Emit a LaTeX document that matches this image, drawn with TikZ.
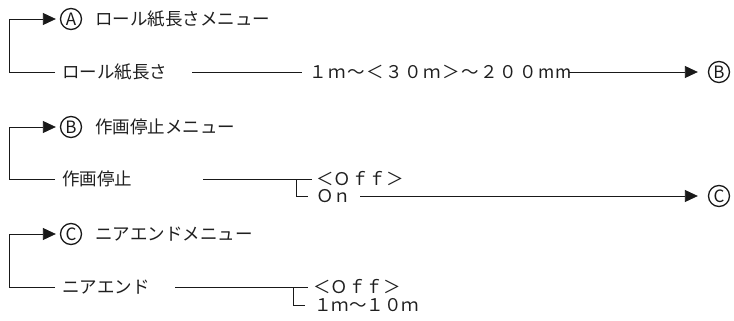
\documentclass[tikz,border=0pt]{standalone}
\usepackage{fontspec}
\setmainfont{Noto Sans CJK JP}
\newfontfamily\jp{Noto Sans CJK JP}
\newfontfamily\jpw[LetterSpace=9]{Noto Sans CJK JP}
\newfontfamily\jpc{Noto Sans CJK JP}
\usetikzlibrary{arrows.meta}
\begin{document}
\begin{tikzpicture}[x=1pt,y=-1pt,
  txt/.style={anchor=base west, inner sep=0pt, text=black!88,
    font=\jp\fontsize{17.5}{19}\selectfont},
  wtxt/.style={txt, font=\jpw\fontsize{17.5}{19}\selectfont},
  ln/.style={line width=0.8pt, draw=black!90},
  arr/.style={ln, -{Triangle[length=13pt,width=12pt]}},
  circ/.style={circle, draw=black!90, line width=1.3pt, minimum size=21pt,
    inner sep=0pt, text=black!90, font=\jpc\fontsize{17}{17}\selectfont}
]
\useasboundingbox (0,0) rectangle (734,321);

% ---------------- A ----------------
\coordinate (kA) at (9,19);
\coordinate (jA) at (55,72);
\node[circ] (cA) at (71,19) {A};
\node[txt] (tA) at (95,25.5) {ロール紙長さメニュー};
\node[txt] (rA) at (62,78.5) {ロール紙長さ};
\coordinate (a1) at (192,72);
\coordinate (a2) at (302,72);
\node[wtxt] (vA) at (309,78.5) {１ｍ～＜３０ｍ＞～２００mm};
\coordinate (a3) at (569,72);
\node[circ] (eB) at (719,72) {B};
\draw[arr, shorten >=4pt] (jA) -| (kA) -- (cA);
\draw[ln] (a1) -- (a2);
\draw[arr, shorten >=10pt] (a3) -- (eB);

% ---------------- B ----------------
\coordinate (kB) at (9,127);
\coordinate (jB) at (55,179);
\node[circ] (cB) at (71,127) {B};
\node[txt] (tB) at (95,133.5) {作画停止メニュー};
\node[txt] (rB) at (62,185.5) {作画停止};
\coordinate (b1) at (203,179);
\coordinate (b2) at (312,179);
\coordinate (bk) at (296,179);
\coordinate (bl) at (308,196);
\node[txt] (oB) at (316,185.5) {＜Ｏｆｆ＞};
\node[txt] (nB) at (316,202.5) {Ｏｎ};
\coordinate (b3) at (360,196);
\node[circ] (eC) at (719,196) {C};
\draw[arr, shorten >=4pt] (jB) -| (kB) -- (cB);
\draw[ln] (b1) -- (b2);
\draw[ln] (bk) |- (bl);
\draw[arr, shorten >=10pt] (b3) -- (eC);

% ---------------- C ----------------
\coordinate (kC) at (9,234);
\coordinate (jC) at (55,287);
\node[circ] (cC) at (71,234) {C};
\node[txt] (tC) at (95,240.5) {ニアエンドメニュー};
\node[txt] (rC) at (62,293.5) {ニアエンド};
\coordinate (c1) at (175,287);
\coordinate (c2) at (308,287);
\coordinate (ck) at (293,287);
\coordinate (cl) at (305,305);
\node[txt] (oC) at (313,293.5) {＜Ｏｆｆ＞};
\node[txt] (nC) at (314,311.5) {１ｍ～１０ｍ};
\draw[arr, shorten >=4pt] (jC) -| (kC) -- (cC);
\draw[ln] (c1) -- (c2);
\draw[ln] (ck) |- (cl);
\end{tikzpicture}
\end{document}
